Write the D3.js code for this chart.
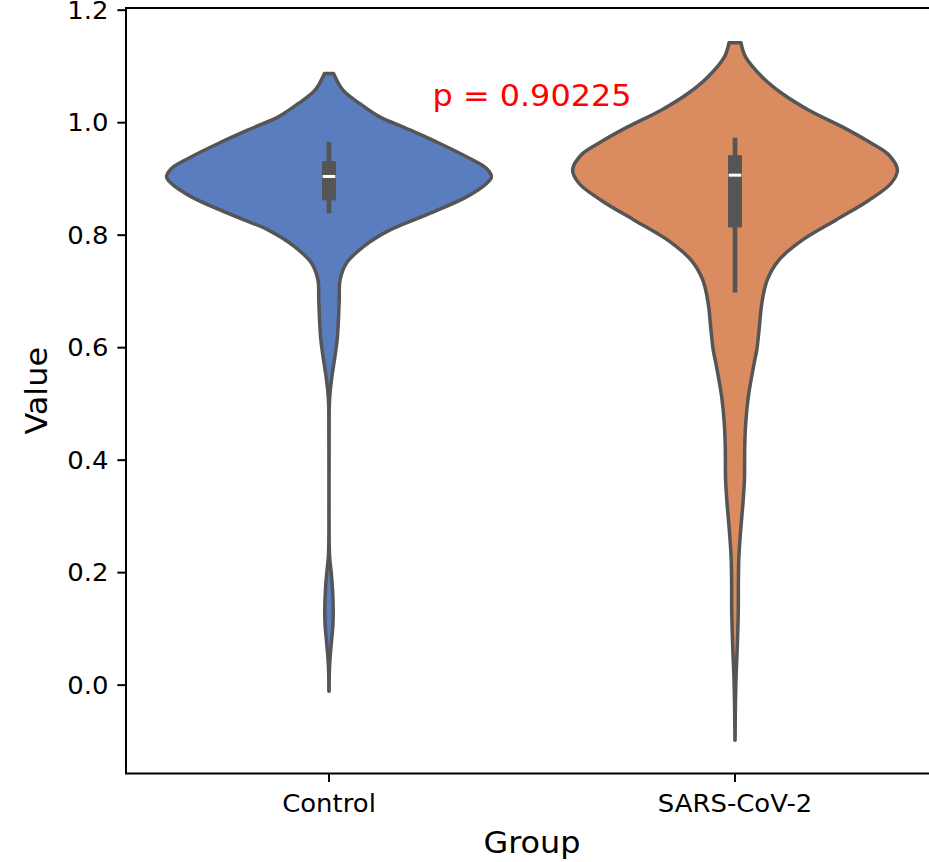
<!DOCTYPE html>
<html>
<head>
<meta charset="utf-8">
<script src="https://cdn.jsdelivr.net/npm/d3@7"></script>
<style>
  html, body { margin: 0; padding: 0; background: #fff; }
  svg { display: block; font-family: "DejaVu Sans", sans-serif; }
</style>
</head>
<body>
<svg id="chart" width="929" height="862"></svg>
<script>
// Groups on the x axis
const groups = ["Control", "SARS-CoV-2"];

// Kernel density profile of each group: value grid and relative density (1 = widest point)
const controlGrid = [1.0866, 1.0569, 1.0333, 1.0094, 0.9888, 0.9621, 0.9355, 0.9177, 0.9028, 0.8910,
  0.8672, 0.8377, 0.8080, 0.7783, 0.7488, 0.7191, 0.6836, 0.6480, 0.6124, 0.5822, 0.5538, 0.5236,
  0.4969, 0.4524, 0.3813, 0.3102, 0.2569, 0.2267, 0.1982, 0.1680, 0.1324, 0.1058, 0.0791, 0.0489,
  0.0204, -0.0116];
const controlDensity = [0.028, 0.086, 0.188, 0.312, 0.477, 0.682, 0.867, 0.970, 1.000, 0.970,
  0.847, 0.620, 0.373, 0.210, 0.106, 0.068, 0.063, 0.058, 0.050, 0.036, 0.021, 0.008,
  0.002, 0.001, 0.0005, 0.0005, 0.001, 0.004, 0.014, 0.022, 0.026, 0.024, 0.016, 0.007,
  0.002, 0.001];

const sarsGrid = [1.1410, 1.1161, 1.0805, 1.0510, 1.0213, 0.9916, 0.9650, 0.9413, 0.9147, 0.8910,
  0.8613, 0.8258, 0.7902, 0.7547, 0.7191, 0.6777, 0.6302, 0.5947, 0.5716, 0.5116, 0.4649, 0.4228,
  0.3636, 0.3227, 0.2747, 0.2272, 0.1858, 0.1271, 0.0672, 0.0080, -0.0507, -0.0987];
const sarsDensity = [0.037, 0.065, 0.167, 0.290, 0.455, 0.661, 0.825, 0.949, 1.000, 0.960,
  0.825, 0.620, 0.414, 0.270, 0.198, 0.165, 0.148, 0.134, 0.118, 0.082, 0.066, 0.060,
  0.058, 0.049, 0.035, 0.024, 0.021, 0.020, 0.014, 0.006, 0.002, 0.0005];

// Inner box summaries: [lower whisker, Q1, median, Q3, upper whisker]
const controlBox = [0.838, 0.861, 0.9035, 0.9307, 0.965];
const sarsBox = [0.6973, 0.8128, 0.9058, 0.9413, 0.9724];

// Axis ticks and annotation
const yTicks = [0.0, 0.2, 0.4, 0.6, 0.8, 1.0, 1.2];
const yLimits = [-0.158, 1.203];
const pLabel = "p = 0.90225";
const pLabelValue = 1.029;

const colors = ["#597dbf", "#da8b5f"];
const lineGray = "#555555";

const violins = [
  { group: groups[0], grid: controlGrid, density: controlDensity, box: controlBox, color: colors[0] },
  { group: groups[1], grid: sarsGrid, density: sarsDensity, box: sarsBox, color: colors[1] }
];

const svg = d3.select("#chart");
const plotLeft = 126, plotRight = 938, plotTop = 8, plotBottom = 773.5;
const stretch = 1.08; // slightly wide glyphs

const x = d3.scaleBand().domain(groups).range([plotLeft, plotRight]).padding(0);
const y = d3.scaleLinear().domain(yLimits).range([plotBottom, plotTop]);
const halfWidth = d3.scaleLinear().domain([0, 1]).range([0, 0.4 * x.bandwidth()]);
const center = g => x(g) + x.bandwidth() / 2;

// Violin bodies
violins.forEach(v => {
  const cx = center(v.group);
  const pts = v.grid.map((val, i) => ({ val, d: v.density[i] }));
  const area = d3.area()
    .y(p => y(p.val))
    .x0(p => cx - halfWidth(p.d))
    .x1(p => cx + halfWidth(p.d))
    .curve(d3.curveCatmullRom.alpha(0.5));
  svg.append("path")
    .attr("d", area(pts))
    .attr("fill", v.color)
    .attr("stroke", lineGray)
    .attr("stroke-width", 3.5)
    .attr("stroke-linejoin", "round");
});

// Inner boxes: whisker line, IQR bar, median tick
violins.forEach(v => {
  const cx = center(v.group);
  const [lo, q1, med, q3, hi] = v.box;
  svg.append("line")
    .attr("x1", cx).attr("x2", cx)
    .attr("y1", y(lo)).attr("y2", y(hi))
    .attr("stroke", lineGray).attr("stroke-width", 4.7);
  svg.append("rect")
    .attr("x", cx - 7).attr("width", 14)
    .attr("y", y(q3)).attr("height", y(q1) - y(q3))
    .attr("fill", lineGray);
  svg.append("line")
    .attr("x1", cx - 6.3).attr("x2", cx + 6.3)
    .attr("y1", y(med)).attr("y2", y(med))
    .attr("stroke", "#ffffff").attr("stroke-width", 3);
});

// Axes
const yAxis = d3.axisLeft(y).tickValues(yTicks).tickFormat(d3.format(".1f")).tickSize(8.6).tickPadding(8.6);
const gy = svg.append("g").attr("transform", `translate(${plotLeft},0)`).call(yAxis);
const xAxis = d3.axisBottom(x).tickSize(8.6).tickPadding(11.5);
const gx = svg.append("g").attr("transform", `translate(0,${plotBottom})`).call(xAxis);
[gy, gx].forEach(g => {
  g.select(".domain").remove();
  g.selectAll(".tick line").attr("stroke", "#000").attr("stroke-width", 2);
  g.selectAll(".tick text").attr("fill", "#000").attr("font-size", 24)
    .attr("font-family", "DejaVu Sans")
    .attr("transform", `scale(${stretch},1)`);
});
gy.selectAll(".tick text").attr("dy", "0.36em").attr("x", -17.6 / stretch);
gx.selectAll(".tick text").attr("dy", "0.76em");

// Frame
svg.append("rect")
  .attr("x", plotLeft).attr("y", plotTop)
  .attr("width", plotRight - plotLeft).attr("height", plotBottom - plotTop)
  .attr("fill", "none").attr("stroke", "#000").attr("stroke-width", 2);

// Axis titles
svg.append("text")
  .attr("transform", `translate(${(plotLeft + plotRight) / 2},853) scale(${stretch},1)`)
  .attr("text-anchor", "middle").attr("font-size", 29.5).attr("fill", "#000")
  .text("Group");
svg.append("text")
  .attr("transform", `translate(47,${(plotTop + plotBottom) / 2}) rotate(-90) scale(${stretch},1)`)
  .attr("text-anchor", "middle").attr("font-size", 29.5).attr("fill", "#000")
  .text("Value");

// Significance annotation
svg.append("text")
  .attr("transform", `translate(${(center(groups[0]) + center(groups[1])) / 2},${y(pLabelValue)}) scale(${stretch},1)`)
  .attr("text-anchor", "middle").attr("font-size", 29.5).attr("fill", "#ff0000")
  .text(pLabel);
</script>
</body>
</html>
